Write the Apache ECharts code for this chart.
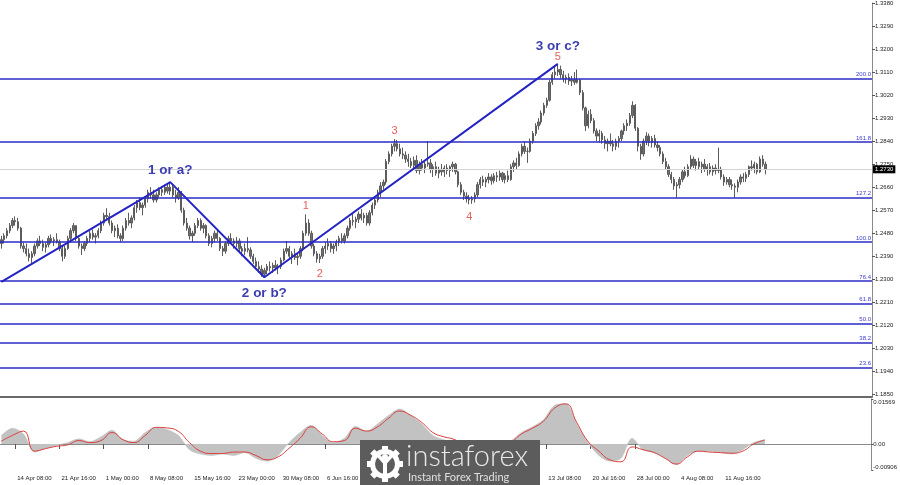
<!DOCTYPE html>
<html><head><meta charset="utf-8">
<script src="https://cdn.jsdelivr.net/npm/echarts@6/dist/echarts.min.js"></script>
<style>html,body{margin:0;padding:0;background:#fff}#c{width:900px;height:485px}</style>
</head><body><div id="c"></div>
<script>
// ---- price bars (8-hour bars, open = previous close) ----
const firstOpen = 1.2440;
const highs = [1.2470,1.2480,1.2500,1.2520,1.2540,1.2546,1.2540,1.2505,1.2445,1.2440,1.2420,1.2410,1.2440,1.2460,1.2470,1.2455,1.2445,1.2470,1.2475,1.2465,
1.2480,1.2455,1.2430,1.2430,1.2470,1.2500,1.2520,1.2510,1.2470,1.2440,1.2450,1.2470,1.2490,1.2495,1.2480,1.2500,1.2530,1.2560,1.2578,1.2560,
1.2530,1.2510,1.2515,1.2480,1.2510,1.2540,1.2560,1.2550,1.2590,1.2610,1.2620,1.2600,1.2625,1.2650,1.2660,1.2650,1.2640,1.2660,1.2665,1.2670,
1.2675,1.2680,1.2670,1.2650,1.2660,1.2645,1.2580,1.2540,1.2510,1.2490,1.2520,1.2540,1.2538,1.2520,1.2515,1.2480,1.2470,1.2490,1.2495,1.2465,
1.2430,1.2450,1.2470,1.2480,1.2460,1.2465,1.2460,1.2430,1.2440,1.2465,1.2425,1.2400,1.2385,1.2370,1.2355,1.2345,1.2360,1.2370,1.2365,1.2375,
1.2360,1.2385,1.2420,1.2450,1.2430,1.2410,1.2420,1.2400,1.2430,1.2490,1.2554,1.2535,1.2490,1.2440,1.2410,1.2400,1.2430,1.2445,1.2460,1.2450,
1.2440,1.2455,1.2470,1.2480,1.2480,1.2510,1.2540,1.2560,1.2545,1.2565,1.2575,1.2560,1.2560,1.2570,1.2600,1.2620,1.2650,1.2680,1.2690,1.2770,
1.2800,1.2830,1.2848,1.2845,1.2830,1.2815,1.2800,1.2790,1.2775,1.2780,1.2785,1.2760,1.2770,1.2760,1.2840,1.2770,1.2750,1.2760,1.2740,1.2750,
1.2745,1.2750,1.2745,1.2760,1.2755,1.2725,1.2680,1.2650,1.2640,1.2630,1.2625,1.2640,1.2680,1.2700,1.2705,1.2700,1.2715,1.2710,1.2715,1.2720,
1.2725,1.2720,1.2715,1.2725,1.2750,1.2765,1.2775,1.2800,1.2830,1.2840,1.2815,1.2850,1.2880,1.2910,1.2930,1.2960,1.2990,1.3010,1.3080,1.3110,
1.3130,1.3142,1.3135,1.3115,1.3100,1.3105,1.3095,1.3110,1.3120,1.3080,1.3040,1.2975,1.2960,1.2965,1.2930,1.2890,1.2885,1.2880,1.2860,1.2850,
1.2870,1.2845,1.2850,1.2860,1.2885,1.2910,1.2925,1.2950,1.2996,1.2985,1.2895,1.2830,1.2850,1.2875,1.2870,1.2860,1.2865,1.2840,1.2825,1.2800,
1.2775,1.2750,1.2720,1.2700,1.2680,1.2700,1.2730,1.2740,1.2750,1.2785,1.2780,1.2770,1.2775,1.2760,1.2770,1.2750,1.2755,1.2745,1.2750,1.2815,
1.2740,1.2710,1.2700,1.2700,1.2690,1.2675,1.2690,1.2710,1.2715,1.2720,1.2745,1.2765,1.2760,1.2755,1.2780,1.2785,1.2760];
const lows = [1.2420,1.2440,1.2460,1.2480,1.2500,1.2510,1.2490,1.2420,1.2405,1.2390,1.2370,1.2364,1.2390,1.2420,1.2430,1.2410,1.2405,1.2425,1.2440,1.2430,
1.2440,1.2410,1.2370,1.2380,1.2415,1.2450,1.2480,1.2450,1.2420,1.2395,1.2410,1.2430,1.2445,1.2455,1.2440,1.2460,1.2480,1.2510,1.2530,1.2510,
1.2480,1.2465,1.2460,1.2445,1.2450,1.2490,1.2510,1.2500,1.2530,1.2560,1.2570,1.2550,1.2580,1.2600,1.2615,1.2600,1.2600,1.2620,1.2625,1.2630,
1.2635,1.2630,1.2620,1.2600,1.2610,1.2560,1.2510,1.2490,1.2455,1.2445,1.2470,1.2500,1.2490,1.2480,1.2460,1.2430,1.2425,1.2445,1.2450,1.2410,
1.2391,1.2400,1.2430,1.2440,1.2420,1.2425,1.2410,1.2390,1.2395,1.2405,1.2380,1.2360,1.2340,1.2325,1.2310,1.2308,1.2320,1.2330,1.2325,1.2335,
1.2320,1.2340,1.2370,1.2400,1.2380,1.2360,1.2375,1.2355,1.2380,1.2410,1.2470,1.2470,1.2420,1.2390,1.2365,1.2364,1.2380,1.2400,1.2415,1.2405,
1.2400,1.2410,1.2430,1.2440,1.2440,1.2460,1.2490,1.2510,1.2500,1.2520,1.2530,1.2520,1.2510,1.2510,1.2550,1.2575,1.2600,1.2620,1.2650,1.2670,
1.2750,1.2780,1.2800,1.2800,1.2780,1.2770,1.2755,1.2740,1.2735,1.2730,1.2715,1.2710,1.2725,1.2715,1.2740,1.2715,1.2700,1.2705,1.2695,1.2705,
1.2700,1.2710,1.2700,1.2720,1.2710,1.2660,1.2630,1.2610,1.2600,1.2593,1.2595,1.2600,1.2620,1.2655,1.2665,1.2660,1.2675,1.2670,1.2675,1.2680,
1.2685,1.2680,1.2675,1.2680,1.2685,1.2720,1.2730,1.2740,1.2780,1.2790,1.2755,1.2795,1.2830,1.2860,1.2885,1.2905,1.2940,1.2970,1.2995,1.3060,
1.3085,1.3095,1.3085,1.3070,1.3065,1.3060,1.3055,1.3060,1.3065,1.3020,1.2960,1.2880,1.2890,1.2910,1.2870,1.2840,1.2835,1.2830,1.2810,1.2800,
1.2820,1.2800,1.2805,1.2815,1.2840,1.2865,1.2880,1.2900,1.2930,1.2880,1.2800,1.2767,1.2780,1.2825,1.2820,1.2815,1.2815,1.2800,1.2780,1.2750,
1.2730,1.2700,1.2675,1.2650,1.2620,1.2655,1.2680,1.2695,1.2700,1.2730,1.2735,1.2725,1.2730,1.2715,1.2720,1.2705,1.2710,1.2705,1.2710,1.2715,
1.2690,1.2665,1.2670,1.2660,1.2650,1.2620,1.2640,1.2670,1.2680,1.2680,1.2700,1.2725,1.2715,1.2710,1.2715,1.2740,1.2710];
const closes = [1.2455,1.2470,1.2490,1.2510,1.2530,1.2525,1.2500,1.2430,1.2420,1.2400,1.2385,1.2400,1.2430,1.2450,1.2440,1.2425,1.2435,1.2460,1.2450,1.2455,
1.2445,1.2420,1.2390,1.2420,1.2460,1.2490,1.2510,1.2460,1.2430,1.2420,1.2440,1.2460,1.2480,1.2465,1.2470,1.2490,1.2520,1.2550,1.2545,1.2520,
1.2490,1.2500,1.2470,1.2460,1.2500,1.2530,1.2520,1.2540,1.2580,1.2600,1.2580,1.2590,1.2615,1.2640,1.2630,1.2610,1.2630,1.2650,1.2640,1.2660,
1.2645,1.2660,1.2630,1.2620,1.2640,1.2570,1.2520,1.2500,1.2470,1.2480,1.2510,1.2530,1.2500,1.2510,1.2470,1.2440,1.2460,1.2480,1.2460,1.2420,
1.2410,1.2440,1.2460,1.2450,1.2440,1.2450,1.2420,1.2410,1.2420,1.2415,1.2390,1.2370,1.2350,1.2340,1.2320,1.2335,1.2350,1.2345,1.2355,1.2345,
1.2350,1.2375,1.2410,1.2420,1.2390,1.2400,1.2385,1.2390,1.2420,1.2480,1.2520,1.2480,1.2430,1.2400,1.2380,1.2390,1.2420,1.2430,1.2440,1.2420,
1.2430,1.2445,1.2460,1.2450,1.2470,1.2500,1.2530,1.2525,1.2535,1.2555,1.2540,1.2550,1.2520,1.2560,1.2590,1.2610,1.2640,1.2665,1.2680,1.2760,
1.2790,1.2820,1.2830,1.2810,1.2790,1.2785,1.2770,1.2760,1.2745,1.2765,1.2725,1.2750,1.2735,1.2750,1.2755,1.2730,1.2740,1.2715,1.2730,1.2720,
1.2735,1.2725,1.2740,1.2750,1.2720,1.2670,1.2640,1.2625,1.2615,1.2610,1.2615,1.2630,1.2670,1.2690,1.2680,1.2690,1.2700,1.2685,1.2705,1.2700,
1.2715,1.2690,1.2705,1.2690,1.2740,1.2755,1.2745,1.2790,1.2820,1.2800,1.2800,1.2840,1.2870,1.2900,1.2915,1.2950,1.2980,1.3000,1.3070,1.3100,
1.3110,1.3120,1.3100,1.3085,1.3090,1.3075,1.3080,1.3070,1.3080,1.3030,1.2970,1.2900,1.2945,1.2920,1.2880,1.2860,1.2870,1.2845,1.2830,1.2840,
1.2830,1.2820,1.2840,1.2850,1.2880,1.2900,1.2910,1.2940,1.2980,1.2890,1.2820,1.2790,1.2840,1.2860,1.2835,1.2850,1.2825,1.2815,1.2790,1.2760,
1.2740,1.2710,1.2690,1.2665,1.2670,1.2690,1.2720,1.2705,1.2740,1.2770,1.2745,1.2760,1.2740,1.2750,1.2730,1.2740,1.2720,1.2735,1.2725,1.2730,
1.2700,1.2680,1.2690,1.2670,1.2665,1.2660,1.2680,1.2700,1.2695,1.2710,1.2740,1.2735,1.2750,1.2720,1.2770,1.2750,1.2730];
const emptyBarsRight = 38;
const firstBarTime = Date.UTC(2023, 3, 12, 16);
const tickLabels = ['14 Apr 08:00','21 Apr 16:00','1 May 00:00','8 May 08:00','15 May 16:00','23 May 00:00','30 May 08:00','6 Jun 16:00',
  '14 Jun 00:00','21 Jun 08:00','28 Jun 16:00','6 Jul 00:00','13 Jul 08:00','20 Jul 16:00','28 Jul 00:00','4 Aug 08:00','11 Aug 16:00'];
const priceTicks = [1.1850,1.1940,1.2030,1.2120,1.2210,1.2300,1.2390,1.2480,1.2570,1.2660,1.2750,1.2840,1.2930,1.3020,1.3110,1.3200,1.3290,1.3380];
const fibLevels = ['200.0','161.8','127.2','100.0','76.4','61.8','50.0','38.2','23.6'];
const fibPrices = [1.3085,1.2837,1.2620,1.2445,1.2294,1.2205,1.2127,1.2053,1.1956];
const currentPrice = 1.2730;
const waveNames = ['', '1 or a?', '2 or b?', '3 or c?'];
const waveIdx = [0, 61, 95, 201];
const wavePrices = [1.2290, 1.2680, 1.2308, 1.3142];
const countLabels = ['1','2','3','4','5'];
const countIdx = [110, 115, 142, 169, 201];
const countSide = ['high','low','high','low','high'];
// ---- oscillator, one value every 4 bars ----
const oscStep = 4;
const histValues = [0.0030,0.0055,0.0035,-0.0028,-0.0015,-0.0005,0.0005,0.0018,0.0008,0.0025,0.0048,0.0015,0.0010,0.0040,0.0058,0.0050,0.0030,-0.0020,
-0.0035,-0.0040,-0.0035,-0.0040,-0.0030,-0.0050,-0.0060,-0.0040,0.0005,0.0040,0.0065,0.0030,0.0005,0.0020,0.0062,0.0045,0.0070,0.0100,0.0122,0.0100,
0.0070,0.0030,0.0015,0.0005,-0.0030,-0.0030,-0.0010,0.0000,0.0010,0.0040,0.0060,0.0085,0.0135,0.0140,0.0070,0.0005,-0.0040,-0.0060,-0.0050,0.0020,
-0.0020,-0.0030,-0.0050,-0.0072,-0.0040,-0.0025,-0.0025,-0.0030,-0.0035,-0.0020,0.0005,0.0015];
const signalValues = [0.0010,0.0030,0.0045,-0.0025,-0.0016,-0.0008,-0.0003,0.0012,0.0005,0.0012,0.0040,0.0015,0.0005,0.0030,0.0058,0.0056,0.0044,0.0005,
-0.0025,-0.0033,-0.0033,-0.0028,-0.0028,-0.0040,-0.0055,-0.0045,-0.0015,0.0020,0.0060,0.0035,0.0008,0.0012,0.0055,0.0045,0.0060,0.0090,0.0115,0.0100,
0.0075,0.0040,0.0025,0.0015,-0.0010,-0.0020,-0.0015,-0.0005,0.0005,0.0035,0.0055,0.0080,0.0125,0.0140,0.0075,0.0010,-0.0025,-0.0055,-0.0062,-0.0010,
-0.0020,-0.0030,-0.0050,-0.0070,-0.0045,-0.0025,-0.0028,-0.0030,-0.0032,-0.0025,0.0000,0.0014];
const oscTicks = [-0.00906, 0, 0.01569];

// ---- build ----
const months = ['Jan','Feb','Mar','Apr','May','Jun','Jul','Aug','Sep','Oct','Nov','Dec'];
const cats = [];
let t = firstBarTime;
while (cats.length < highs.length + emptyBarsRight) {
  const d = new Date(t);
  const wd = d.getUTCDay();
  if (wd !== 0 && wd !== 6) cats.push(d.getUTCDate() + ' ' + months[d.getUTCMonth()] + ' ' + String(d.getUTCHours()).padStart(2, '0') + ':00');
  t += 8 * 3600 * 1000;
}
const ohlc = closes.map((c, i) => [i === 0 ? firstOpen : closes[i - 1], c, lows[i], highs[i]]);
const showTick = (idx, val) => tickLabels.indexOf(val) >= 0;
const axisFont = 'Liberation Sans';
const fibColor = '#2b2bc6';

const markData = fibPrices.map((p, k) => ({
  yAxis: p,
  lineStyle: { color: fibColor, width: 1.5, type: 'solid' },
  label: { show: true, position: 'insideEndTop', formatter: fibLevels[k], color: '#3b3bd0', fontSize: 6, fontFamily: axisFont, distance: [1, 1] }
}));
markData.push({
  yAxis: currentPrice,
  lineStyle: { color: '#d4d4d4', width: 1, type: 'solid' },
  label: { show: true, position: 'end', formatter: currentPrice.toFixed(4), color: '#fff', backgroundColor: '#000', padding: [1, 2, 1, 2], fontSize: 6, fontFamily: axisFont, distance: 1 }
});

const waveLabelPos = [null, ['top', 5], ['bottom', 9], ['top', 11]];
const waveData = waveIdx.map((i, k) => {
  const item = { value: [i, wavePrices[k]] };
  if (waveNames[k]) item.label = { show: true, formatter: waveNames[k], position: waveLabelPos[k][0], distance: waveLabelPos[k][1],
    color: '#3d3db2', fontSize: 13.5, fontWeight: 'bold', fontFamily: 'Liberation Sans' };
  return item;
});
const countDist = [3, 6, 3, 7, 1];
const countData = countIdx.map((i, k) => ({
  value: [i, countSide[k] === 'high' ? highs[i] : lows[i]],
  label: { show: true, formatter: countLabels[k], position: countSide[k] === 'high' ? 'top' : 'bottom', distance: countDist[k],
    color: '#e03434', fontSize: 11, fontFamily: 'Liberation Sans' }
}));

const gearTeeth = [];
for (let k = 0; k < 8; k++) gearTeeth.push({ type: 'rect', z: 101, x: 385, y: 464, rotation: k * Math.PI / 4,
  shape: { x: -3, y: -18, width: 6, height: 6 }, style: { fill: '#fff' } });

const option = {
  animation: false,
  backgroundColor: '#fff',
  grid: [
    { left: 0, right: 28, top: 0, height: 397 },
    { left: 0, right: 28, top: 399, height: 71 }
  ],
  xAxis: [
    { type: 'category', gridIndex: 0, data: cats, boundaryGap: true,
      axisLine: { show: true, lineStyle: { color: '#6a6a6a', width: 2 } }, axisTick: { show: false }, axisLabel: { show: false }, splitLine: { show: false } },
    { type: 'category', gridIndex: 1, data: cats, boundaryGap: true,
      axisLine: { show: true, lineStyle: { color: '#8a8a8a', width: 1 } },
      axisTick: { show: true, alignWithLabel: true, interval: showTick, length: 5, lineStyle: { color: '#555' } },
      axisLabel: { show: true, interval: showTick, align: 'left', margin: 5, padding: [0, 0, 0, 2], fontSize: 6, color: '#222', fontFamily: axisFont },
      splitLine: { show: false } }
  ],
  yAxis: [
    { type: 'value', gridIndex: 0, position: 'right', min: 1.1840, max: 1.3380, scale: true,
      axisLine: { show: true, lineStyle: { color: '#8a8a8a' } },
      axisTick: { show: true, length: 3, customValues: priceTicks, lineStyle: { color: '#555' } },
      axisLabel: { show: true, customValues: priceTicks, formatter: v => v.toFixed(4), margin: 3, fontSize: 6, color: '#222', fontFamily: axisFont },
      splitLine: { show: false } },
    { type: 'value', gridIndex: 1, position: 'right', min: -0.00906, max: 0.01569,
      axisLine: { show: true, lineStyle: { color: '#8a8a8a' } },
      axisTick: { show: true, length: 2, customValues: oscTicks, lineStyle: { color: '#555' } },
      axisLabel: { show: true, customValues: oscTicks, formatter: v => v === 0 ? '0.00' : v.toFixed(5), margin: 2, fontSize: 6, color: '#222', fontFamily: axisFont,
        verticalAlignMaxLabel: 'top', verticalAlignMinLabel: 'bottom' },
      splitLine: { show: false } }
  ],
  series: [
    { type: 'candlestick', xAxisIndex: 0, yAxisIndex: 0, data: ohlc, barWidth: 1.8, z: 2,
      itemStyle: { color: '#707070', color0: '#707070', borderColor: '#5c5c5c', borderColor0: '#5c5c5c', borderWidth: 1 },
      markLine: { silent: true, precision: 5, symbol: ['none', 'none'], animation: false, data: markData } },
    { type: 'line', xAxisIndex: 0, yAxisIndex: 0, data: waveData, z: 5, symbol: 'circle', symbolSize: 0, showSymbol: true,
      lineStyle: { color: '#2424c4', width: 2 }, itemStyle: { color: '#2424c4' } },
    { type: 'scatter', xAxisIndex: 0, yAxisIndex: 0, data: countData, symbolSize: 0, z: 6 },
    { type: 'line', xAxisIndex: 1, yAxisIndex: 1, data: histValues.map((v, k) => [k * oscStep, v]), symbol: 'none', smooth: 0.3,
      lineStyle: { width: 0.5, color: '#bdbdbd' }, areaStyle: { color: '#c2c2c2', opacity: 1 }, z: 2 },
    { type: 'line', xAxisIndex: 1, yAxisIndex: 1, data: signalValues.map((v, k) => [k * oscStep, v]), symbol: 'none', smooth: 0.5,
      lineStyle: { width: 1, color: '#d9413f' }, z: 3 }
  ],
  graphic: [
    { type: 'rect', z: 100, shape: { x: 360, y: 440, width: 180, height: 45 }, style: { fill: '#5c5c5c' } },
    { type: 'circle', z: 101, shape: { cx: 385, cy: 464, r: 12.5 }, style: { fill: 'none', stroke: '#fff', lineWidth: 5 } },
    ...gearTeeth,
    { type: 'circle', z: 101, shape: { cx: 385, cy: 457, r: 3 }, style: { fill: '#fff' } },
    { type: 'polyline', z: 101, shape: { points: [[377, 454], [385, 463], [393, 454]] }, style: { stroke: '#fff', lineWidth: 3.5, fill: 'none' } },
    { type: 'line', z: 101, shape: { x1: 385, y1: 462, x2: 385, y2: 474 }, style: { stroke: '#fff', lineWidth: 4 } },
    { type: 'text', z: 101, style: { text: 'instaforex', x: 406, y: 457, font: '300 29px Lato', fill: '#e8e8e8', textVerticalAlign: 'middle' } },
    { type: 'text', z: 101, style: { text: 'Instant Forex Trading', x: 408, y: 477, font: '11px Lato', fill: '#e0e0e0', textVerticalAlign: 'middle' } }
  ]
};
echarts.init(document.getElementById('c')).setOption(option);
</script>
</body></html>
